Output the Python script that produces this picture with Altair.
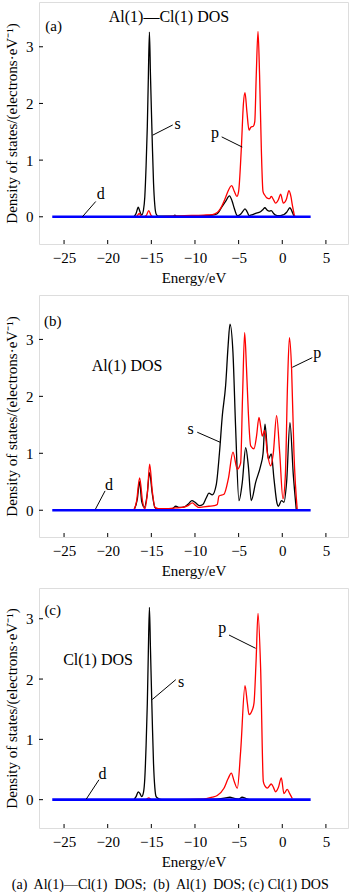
import altair as alt
import pandas as pd

FONT = "Liberation Serif"
X_DOMAIN = [-27.87, 7.53]
X_TICKS = [-25, -20, -15, -10, -5, 0, 5]
Y_TICKS = [0, 1, 2, 3]
D_E = [-26.35, 3.25]
D_V = [0.0, 0.0]

# ---------- panel (a): Al(1)-Cl(1) DOS ----------
a_s_E = [-17.0, -16.75, -16.5, -16.3, -16.1, -15.9, -15.75, -15.6, -15.46, -15.35, -15.22, -15.1,
         -14.98, -14.89, -14.75, -14.6, -14.45, -14.2, -12.5, -12.3, -12.1, -11.5, -9.0, -8.0,
         -7.5, -6.9, -6.5, -6.05, -5.75, -5.5, -5.15, -4.75, -4.5, -4.27, -4.0, -3.8, -3.4,
         -3.05, -2.5, -2.2, -2.0, -1.75, -1.5, -1.26, -1.0, -0.76, -0.4, 0.0, 0.2, 0.5, 0.88,
         1.1, 1.34, 1.6]
a_s_V = [0.0, 0.06, 0.17, 0.09, 0.03, 0.12, 0.35, 0.9, 1.6, 2.4, 3.26, 2.5,
         1.8, 1.3, 0.6, 0.2, 0.05, 0.01, 0.01, 0.03, 0.01, 0.01, 0.02, 0.03,
         0.05, 0.18, 0.27, 0.37, 0.28, 0.15, 0.02, 0.05, 0.1, 0.14, 0.08, 0.02, 0.04,
         0.06, 0.09, 0.13, 0.16, 0.12, 0.1, 0.11, 0.06, 0.03, 0.02, 0.03, 0.04, 0.08, 0.16,
         0.1, 0.02, 0.0]
a_p_E = [-16.8, -16.6, -16.4, -16.2, -15.9, -15.55, -15.3, -15.05, -14.8, -11.2, -9.0, -8.0,
         -7.5, -7.06, -6.6, -6.3, -5.8, -5.5, -5.2, -5.0, -4.69, -4.45, -4.27, -4.05, -3.81,
         -3.6, -3.3, -3.15, -2.98, -2.78, -2.6, -2.4, -2.21, -2.0, -1.72, -1.45, -1.26, -1.0,
         -0.76, -0.45, -0.19, 0.12, 0.45, 0.77, 1.0, 1.15, 1.42]
a_p_V = [0.0, 0.02, 0.06, 0.02, 0.0, 0.03, 0.11, 0.03, 0.0, 0.02, 0.03, 0.04,
         0.07, 0.15, 0.3, 0.42, 0.55, 0.45, 0.36, 0.45, 1.21, 2.0, 2.19, 1.85, 1.53,
         1.58, 1.6, 1.68, 2.5, 3.27, 2.5, 1.2, 0.45, 0.38, 0.33, 0.32, 0.36, 0.3,
         0.24, 0.3, 0.4, 0.24, 0.3, 0.46, 0.35, 0.21, 0.0]

# ---------- panel (b): Al(1) DOS ----------
b_s_E = [-17.0, -16.6, -16.35, -16.1, -15.8, -15.5, -15.2, -14.9, -14.6, -14.3, -13.5, -12.6,
         -12.2, -11.8, -11.2, -10.7, -10.35, -10.0, -9.5, -9.1, -8.7, -8.4, -8.02, -7.56,
         -7.2, -6.87, -6.49, -6.2, -5.99, -5.65, -5.34, -4.96, -4.58, -4.19, -3.89, -3.55,
         -3.05, -2.48, -2.2, -1.98, -1.6, -1.26, -0.95, -0.6, -0.46, -0.08, 0.19, 0.5, 0.88,
         1.26, 1.6]
b_s_V = [0.0, 0.2, 0.5, 0.15, 0.05, 0.25, 0.66, 0.3, 0.05, 0.02, 0.02, 0.03,
         0.07, 0.05, 0.06, 0.12, 0.17, 0.14, 0.08, 0.1, 0.22, 0.3, 0.27, 0.45,
         1.0, 1.66, 2.19, 2.9, 3.27, 2.77, 1.43, 0.17, 0.49, 1.1, 0.78, 0.17,
         0.49, 0.78, 1.0, 1.51, 0.9, 0.99, 0.55, 0.12, 0.07, 0.17, 0.14, 0.5, 1.54,
         0.63, 0.02]
b_p_E = [-17.0, -16.7, -16.34, -16.0, -15.76, -15.45, -15.19, -14.9, -14.58, -14.2, -13.0,
         -12.2, -11.5, -10.8, -10.3, -9.9, -9.6, -9.0, -8.4, -7.8, -7.45, -7.25, -6.68,
         -6.18, -5.65, -5.15, -4.77, -4.55, -4.31, -4.1, -3.89, -3.62, -3.24, -2.95, -2.67,
         -2.45, -2.29, -2.02, -1.72, -1.33, -1.03, -0.65, -0.3, 0.08, 0.35, 0.6, 0.82, 1.07,
         1.34, 1.72]
b_p_V = [0.0, 0.15, 0.57, 0.15, 0.02, 0.3, 0.81, 0.35, 0.05, 0.03, 0.03,
         0.04, 0.05, 0.08, 0.13, 0.08, 0.05, 0.06, 0.07, 0.08, 0.1, 0.25, 0.28,
         0.55, 1.02, 0.72, 0.83, 2.0, 3.12, 2.5, 1.72, 1.13, 1.08, 1.3, 1.63,
         1.45, 1.3, 1.4, 1.02, 0.78, 1.0, 1.66, 1.02, 0.2, 0.6, 2.2, 3.03, 2.47,
         1.0, 0.0]

# ---------- panel (c): Cl(1) DOS ----------
c_s_E = [-17.0, -16.75, -16.5, -16.3, -16.1, -15.9, -15.75, -15.6, -15.46, -15.35, -15.22,
         -15.1, -14.98, -14.89, -14.75, -14.6, -14.45, -14.2, -13.8, -7.5, -6.5, -6.0, -5.5,
         -5.0, -4.6, -4.2, -3.8]
c_s_V = [0.0, 0.05, 0.13, 0.1, 0.05, 0.12, 0.35, 0.9, 1.6, 2.4, 3.19,
         2.5, 1.8, 1.3, 0.6, 0.2, 0.05, 0.02, 0.0, 0.01, 0.03, 0.04, 0.02,
         0.01, 0.04, 0.02, 0.0]
c_p_E = [-15.6, -15.3, -15.0, -9.0, -8.59, -8.0, -7.45, -6.68, -6.2, -5.84, -5.5, -5.15,
         -4.77, -4.27, -4.0, -3.81, -3.43, -3.24, -3.0, -2.78, -2.48, -2.17, -1.95, -1.72,
         -1.26, -1.0, -0.76, -0.45, -0.11, 0.19, 0.57, 0.85, 1.15]
c_p_V = [0.0, 0.03, 0.0, 0.01, 0.02, 0.04, 0.07, 0.19, 0.35, 0.44, 0.3, 0.19,
         0.8, 1.89, 1.6, 1.41, 1.49, 1.6, 2.3, 3.09, 2.18, 0.3, 0.22, 0.19,
         0.26, 0.2, 0.13, 0.2, 0.36, 0.1, 0.17, 0.1, 0.02]

# annotation texts: (x, y, text, align, size)
a_texts = [(-26.2, 3.37, "(a)", "center", 15), (-12.98, 3.53, "Al(1)\u2014Cl(1) DOS", "center", 16),
           (-12.0, 1.64, "s", "center", 16), (-7.7, 1.47, "p", "center", 16), (-20.8, 0.41, "d", "center", 16)]
b_texts = [(-26.3, 3.33, "(b)", "center", 15), (-21.83, 2.54, "Al(1) DOS", "left", 16),
           (-10.5, 1.42, "s", "center", 16), (4.0, 2.76, "p", "center", 16), (-19.85, 0.45, "d", "center", 16)]
c_texts = [(-26.3, 3.15, "(c)", "center", 15), (-25.1, 2.32, "Cl(1) DOS", "left", 16),
           (-11.6, 1.95, "s", "center", 16), (-6.87, 2.84, "p", "center", 16), (-20.6, 0.43, "d", "center", 16)]
# leader lines: (x1, y1, x2, y2)
a_leaders = [(-12.55, 1.62, -14.85, 1.44), (-6.94, 1.41, -4.58, 1.23), (-21.37, 0.27, -22.9, 0.0)]
b_leaders = [(-9.74, 1.37, -7.06, 1.19), (3.44, 2.68, 1.15, 2.51), (-20.3, 0.34, -21.4, 0.02)]
c_leaders = [(-12.2, 1.99, -14.9, 1.66), (-6.1, 2.73, -3.05, 2.51), (-21.0, 0.33, -22.45, 0.01)]

Y_TITLE = "Density of states/(electrons\u00b7eV\u207b\u00b9)"
CAPTION = "(a)\u00a0 Al(1)\u2014Cl(1)\u00a0 DOS;\u00a0 (b)\u00a0 Al(1)\u00a0 DOS; (c) Cl(1) DOS"


def panel(sE, sV, pE, pV, texts, leaders, ydom, height):
    xs = alt.Scale(domain=X_DOMAIN, nice=False, zero=False)
    ys = alt.Scale(domain=ydom, nice=False, zero=False)
    xaxis = alt.Axis(values=X_TICKS, ticks=False, domain=False, grid=False, labelPadding=6,
                     labelFontSize=15, titleFontSize=15, titlePadding=5, labelFont=FONT,
                     titleFont=FONT, titleFontWeight="normal", labelColor="black", titleColor="black")
    yaxis = alt.Axis(values=Y_TICKS, ticks=False, domain=False, grid=False, labelPadding=6,
                     labelFontSize=15, titleFontSize=15, titlePadding=6, labelFont=FONT,
                     titleFont=FONT, titleFontWeight="normal", labelColor="black", titleColor="black")
    X = alt.X("E:Q", scale=xs, axis=xaxis, title="Energy/eV")
    Y = alt.Y("DOS:Q", scale=ys, axis=yaxis, title=Y_TITLE)

    s_df = pd.DataFrame({"E": sE, "DOS": sV})
    p_df = pd.DataFrame({"E": pE, "DOS": pV})
    d_df = pd.DataFrame({"E": D_E, "DOS": D_V})
    t_df = pd.DataFrame(texts, columns=["E", "DOS", "txt", "align", "size"])
    l_df = pd.DataFrame(leaders, columns=["E", "DOS", "E2", "DOS2"])
    xt_df = pd.DataFrame({"E": X_TICKS})
    yt_df = pd.DataFrame({"DOS": Y_TICKS})

    s_line = alt.Chart(s_df).mark_line(color="black", strokeWidth=1.3, interpolate="monotone").encode(x=X, y=Y)
    p_line = alt.Chart(p_df).mark_line(color="#ff0000", strokeWidth=1.3, interpolate="monotone").encode(x=X, y=Y)
    d_line = alt.Chart(d_df).mark_line(color="#0000ff", strokeWidth=2.6).encode(x=X, y=Y)
    lead = alt.Chart(l_df).mark_rule(color="black", strokeWidth=1).encode(
        x=X, y=Y, x2=alt.X2("E2:Q"), y2=alt.Y2("DOS2:Q"))
    layers = [s_line, p_line, d_line, lead]
    for al in ["left", "center"]:
        sub = t_df[t_df["align"] == al]
        for sz in sorted(sub["size"].unique()):
            sub2 = sub[sub["size"] == sz]
            layers.append(alt.Chart(sub2).mark_text(align=al, baseline="middle", font=FONT,
                                                    fontSize=int(sz), color="black").encode(
                x=X, y=Y, text="txt:N"))
    xt = alt.Chart(xt_df).mark_rule(color="black", strokeWidth=1).encode(
        x=X, y=alt.value(height), y2=alt.value(height - 4))
    yt = alt.Chart(yt_df).mark_rule(color="black", strokeWidth=1).encode(
        y=Y, x=alt.value(0), x2=alt.value(4))
    layers += [xt, yt]
    return alt.layer(*layers).properties(width=309, height=height)


pa = panel(a_s_E, a_s_V, a_p_E, a_p_V, a_texts, a_leaders, [-0.48, 3.79], 242)
pb = panel(b_s_E, b_s_V, b_p_E, b_p_V, b_texts, b_leaders, [-0.47, 3.78], 242)
pc = panel(c_s_E, c_s_V, c_p_E, c_p_V, c_texts, c_leaders, [-0.47, 3.51], 240)

chart = alt.vconcat(pa, pb, pc, spacing=8).properties(
    padding={"left": 4, "top": 1, "right": 0, "bottom": 0},
    title=alt.TitleParams(text=CAPTION, orient="bottom", anchor="middle", fontSize=14,
                          font=FONT, fontWeight="normal", color="black", offset=8, dx=-6),
).configure_view(stroke="black", strokeWidth=1).configure(background="white")

chart.save("out.html", embed_options={"renderer": "svg", "actions": False})
